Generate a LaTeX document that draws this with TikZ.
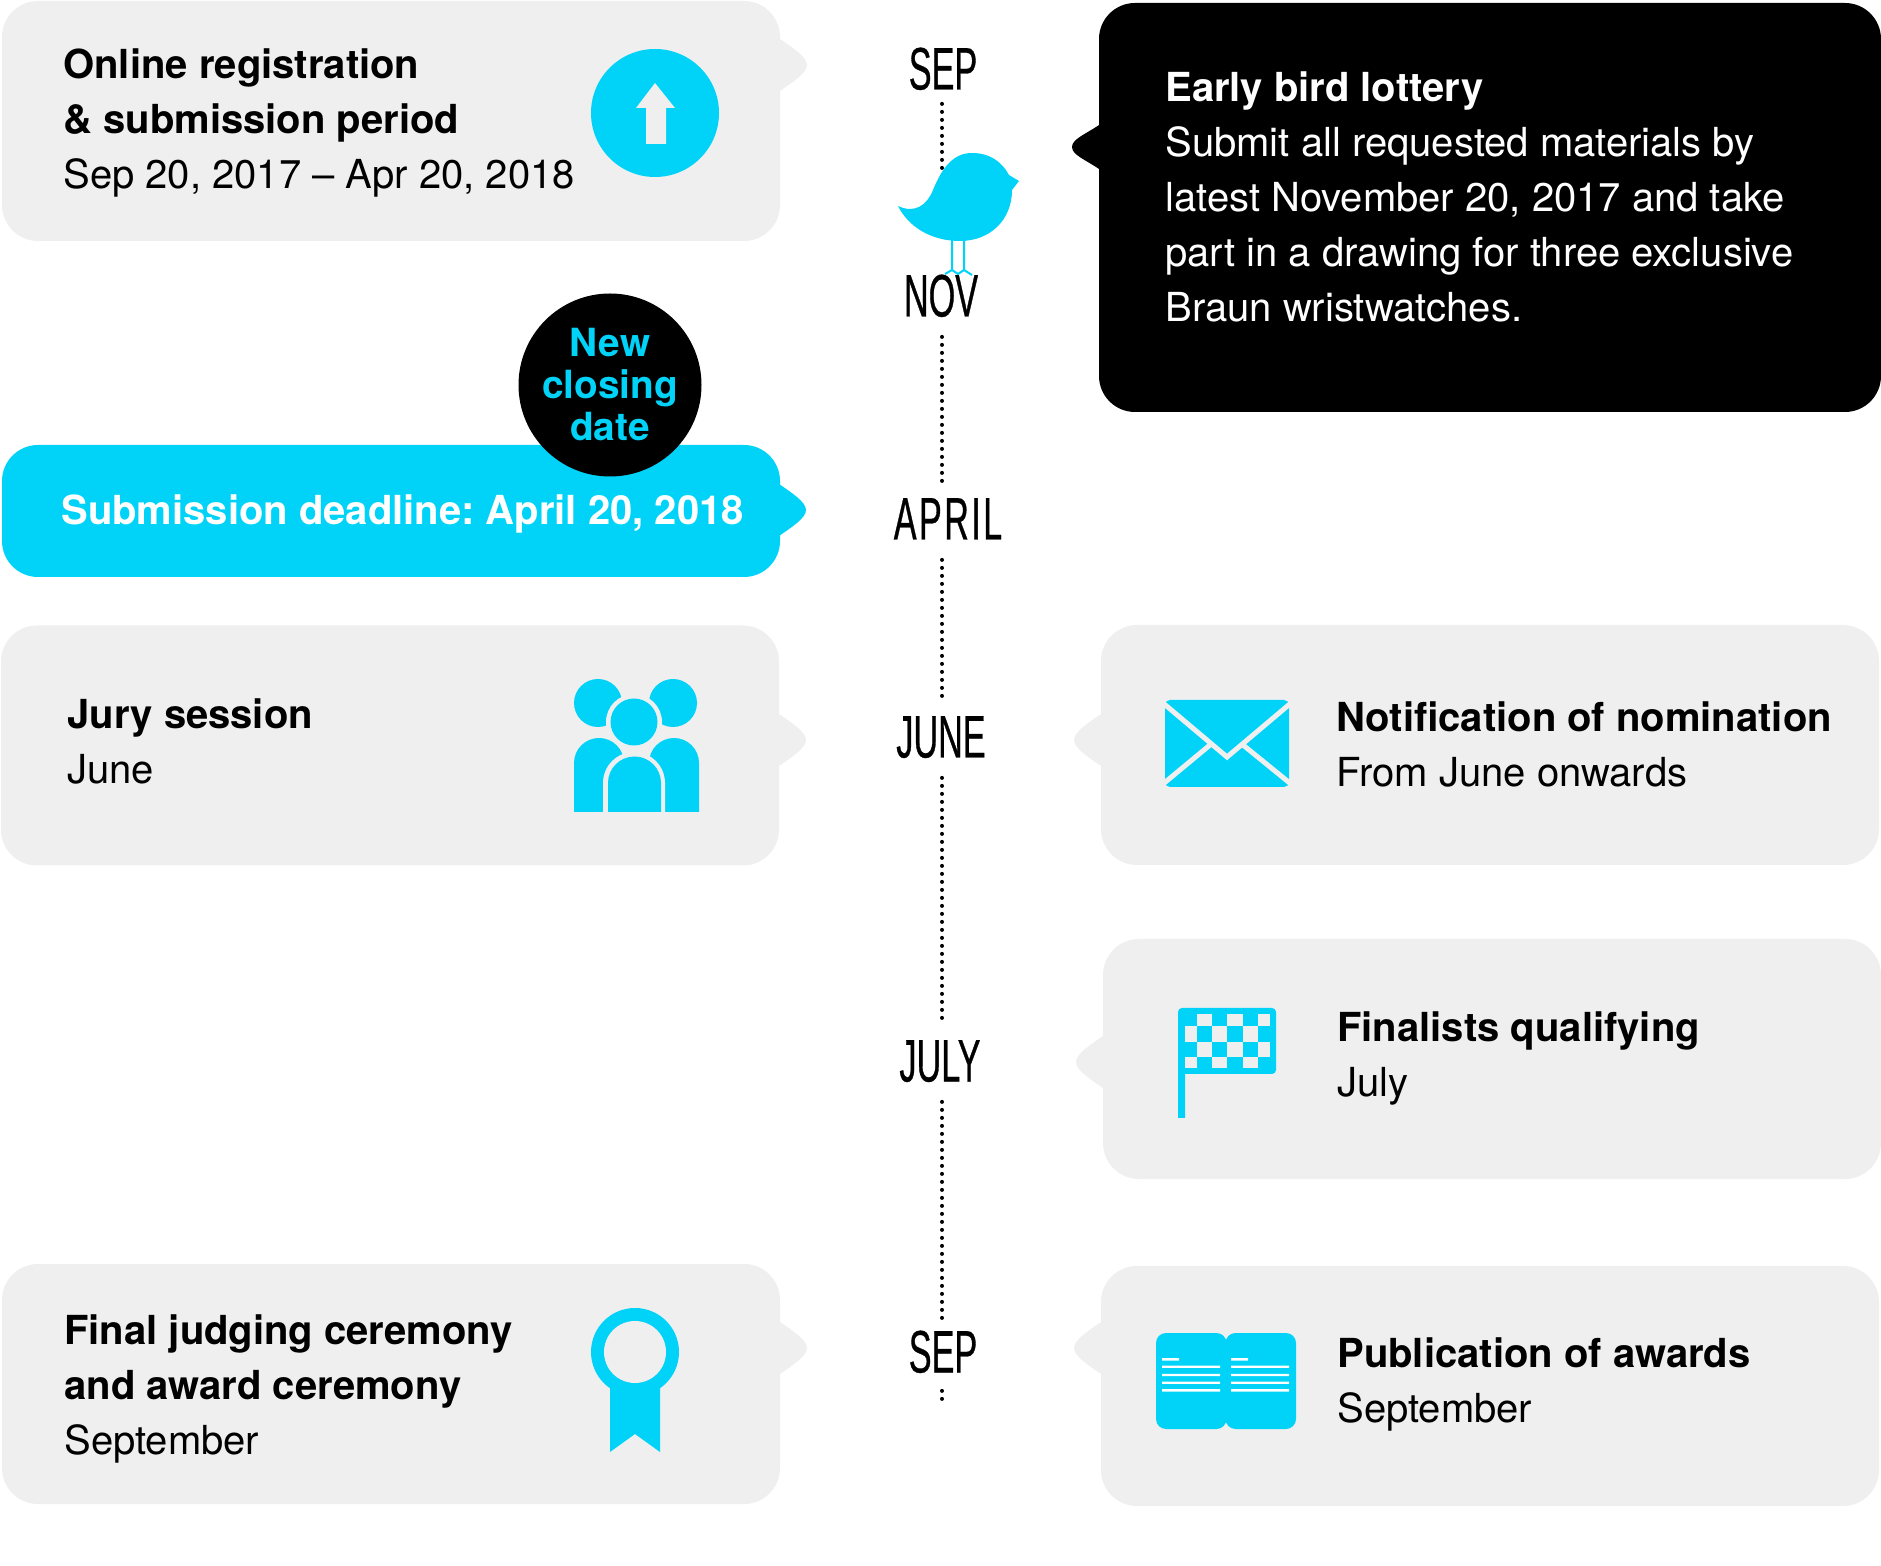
\documentclass[tikz,border=0pt]{standalone}
\usepackage{fontspec}
\setmainfont{TeX Gyre Heros}
\newfontfamily\monthfont[FakeStretch=0.57,FakeBold=0.5]{Liberation Sans}
\definecolor{signal}{HTML}{00D3F7}
\definecolor{panelgrey}{HTML}{EFEFEF}
\tikzset{
  panel/.style = {rectangle, rounded corners=18pt, inner sep=0pt,
    minimum width=389pt, minimum height=120pt},
  greybox/.style = {panel, fill=panelgrey},
  blurb/.style = {align=left, anchor=west, inner sep=0pt,
    font=\fontsize{20}{27.5}\selectfont\frenchspacing},% text in the panels
  month/.style = {inner xsep=0pt, inner ysep=10pt, text height=21.5pt, text depth=0pt,
    font=\monthfont\fontsize{30}{30}\selectfont},
  dotline/.style = {line width=2pt, line cap=round, dash pattern=on 0pt off 4pt},
  gapline/.style = {draw=panelgrey, line width=2.5pt}
}
% tail of a panel, #1 colour, #2 point on the panel edge, #3 half height, #4 +1 right, -1 left
\newcommand{\paneltail}[4]{\begin{scope}[shift={(#2)},xscale=#4]
  \fill[#1] (-1,-#3) -- (0,-#3) .. controls (13,-#3+9) and (27,-8) .. (27,0)
    .. controls (27,8) and (13,#3-9) .. (0,#3) -- (-1,#3) -- cycle;
  \end{scope}}
\begin{document}
\begin{tikzpicture}[x=0.5pt,y=-0.5pt]
    \useasboundingbox (0,0) rectangle (1881,1566);
    % panels
    \node [greybox] (reg) at (391,121) {};
    \node [panel, fill=signal, minimum height=66pt] (deadline) at (391,511) {};
    \node [greybox] (jury) at (390,745.5) {};
    \node [greybox] (final) at (391,1384) {};
    \node [panel, fill=black, minimum width=391pt, minimum height=204.5pt] (early) at (1490,207.5) {};
    \node [greybox] (notif) at (1490,745) {};
    \node [greybox] (finalists) at (1492,1059) {};
    \node [greybox] (pub) at (1490,1386) {};
    \paneltail{panelgrey}{780,65}{26}{1}
    \paneltail{signal}{779,510}{26}{1}
    \paneltail{panelgrey}{779,740}{26}{1}
    \paneltail{panelgrey}{780,1348}{26}{1}
    \paneltail{black}{1099,147}{22}{-1}
    \paneltail{panelgrey}{1101,740}{26}{-1}
    \paneltail{panelgrey}{1103,1062}{26}{-1}
    \paneltail{panelgrey}{1101,1348}{26}{-1}
    % months
    \node [month] (sepa) at (943,68) {SEP};
    \node [month] (nov) at (941,295) {NOV};
    \node [month] (april) at (948,518) {A\kern1.2pt P\kern1.2pt R\kern1.2pt I\kern1.2pt L};
    \node [month] (june) at (941,736) {JUNE};
    \node [month] (july) at (940,1060) {JULY};
    \node [month] (sepb) at (943,1351) {SEP};
    \coordinate (axis) at (942,0);
    \coordinate (birdtop) at (942,168);
    \coordinate (lastdot) at (942,1386);
    \draw [dotline, shorten <=-3pt] (sepa.south -| axis) -- (birdtop);
    \foreach \a/\b/\s in {nov/april/2.5pt,april/june/4pt,june/july/0pt,july/sepb/5pt}
      \draw [dotline, shorten >=-\s] (\a.south -| axis) -- (\b.north -| axis);
    \draw [dotline, shorten <=-3pt] (sepb.south -| axis) -- (lastdot);
    % bird
    \fill [signal] (898,206) .. controls (915,214) and (927,205) .. (933,190)
      .. controls (942,168) and (953,153) .. (972,153)
      .. controls (990,153) and (1002,162) .. (1009,175) -- (1019,181) -- (1012,190)
      .. controls (1012,220) and (990,241) .. (960,241)
      .. controls (930,241) and (908,226) .. (898,206);
    \draw [signal, line width=1pt] (952,240) -- (952,270) (964,240) -- (964,270)
      (945,274) -- (952,270) -- (958,274) -- (964,270) -- (972,275);
    % arrow in a circle
    \fill [signal] (655,113) circle (64);
    \fill [panelgrey] (655,83) -- (675,108) -- (666,108) -- (666,144) -- (646,144) -- (646,108) -- (636,108) -- cycle;
    % people
    \fill [signal] (598,703) circle (24) (673,703) circle (24);
    \fill [signal] (574,812) -- (574,763) arc (180:360:25) -- (624,812) -- cycle;
    \fill [signal] (649,812) -- (649,763) arc (180:360:25) -- (699,812) -- cycle;
    \fill [panelgrey] (634,722) circle (28);
    \fill [panelgrey] (603,813) -- (603,783) arc (180:360:31) -- (665,813) -- cycle;
    \fill [signal] (634,722) circle (23.5);
    \fill [signal] (608,812) -- (608,783) arc (180:360:26.5) -- (661,812) -- cycle;
    % ribbon
    \fill [signal] (610,1380) -- (660,1380) -- (660,1452) -- (635,1434) -- (610,1452) -- cycle;
    \fill [signal] (635,1352) circle (44);
    \fill [panelgrey] (635,1352) circle (31);
    % envelope
    \fill [signal, rounded corners=2.5pt] (1165,700) rectangle (1289,787);
    \draw [gapline] (1163,703) -- (1227,757) -- (1291,703);
    \draw [gapline] (1163,784) -- (1210,745) (1243,745) -- (1291,784);
    % flag
    \fill [signal] (1178,1118) -- (1178,1012) [rounded corners=2pt] -- (1178,1008) -- (1276,1008) -- (1276,1074) [sharp corners] -- (1185,1074) -- (1185,1118) -- cycle;
    \foreach \ya/\yb in {1014/1026,1042/1057}
      \foreach \xa/\xb in {1197/1212,1227/1243,1258/1270}
        \fill [panelgrey] (\xa,\ya) rectangle (\xb,\yb);
    \foreach \ya/\yb in {1026/1042,1057/1068}
      \foreach \xa/\xb in {1185/1197,1212/1227,1243/1258}
        \fill [panelgrey] (\xa,\ya) rectangle (\xb,\yb);
    % book
    \fill [signal, rounded corners=5pt] (1156,1333) rectangle (1226.5,1429);
    \fill [signal, rounded corners=5pt] (1225.5,1333) rectangle (1296,1429);
    \foreach \y in {1365.5,1373.8,1381.5,1389.1}
      \fill [white] (1162,\y) rectangle (1220,\y+2.4) (1231,\y) rectangle (1289,\y+2.4);
    \fill [white] (1162,1358.1) rectangle (1179,1360.5) (1231,1358.1) rectangle (1248,1360.5);
    % texts
    \node [blurb] (regtext) at (63,123) {\textbf{Online registration}\\\textbf{\& submission period}\\Sep 20, 2017 -- Apr 20, 2018};
    \node [blurb, white] (deadlinetext) at (61,514) {\textbf{Submission deadline: April 20, 2018}};
    \node [blurb] (jurytext) at (67,741) {\textbf{Jury session}\\June};
    \node [blurb] (finaltext) at (64,1389) {\textbf{Final judging ceremony}\\\textbf{and award ceremony}\\September};
    \node [blurb, white] (earlytext) at (1165,197) {\textbf{Early bird lottery}\\Submit all requested materials by\\latest November 20, 2017 and take\\part in a drawing for three exclusive\\Braun wristwatches.};
    \node [blurb] (notiftext) at (1336,744) {\textbf{Notification of nomination}\\From June onwards};
    \node [blurb] (finaliststext) at (1337,1058) {\textbf{Finalists qualifying}\\July};
    \node [blurb] (pubtext) at (1337,1384) {\textbf{Publication of awards}\\September};
    % badge
    \node [circle, fill=black, minimum size=91.5pt, inner sep=0pt, text=signal, align=center,
      font=\bfseries\fontsize{19.4}{21}\selectfont] (badge) at (610,385) {New\\closing\\date};
\end{tikzpicture}
\end{document}
